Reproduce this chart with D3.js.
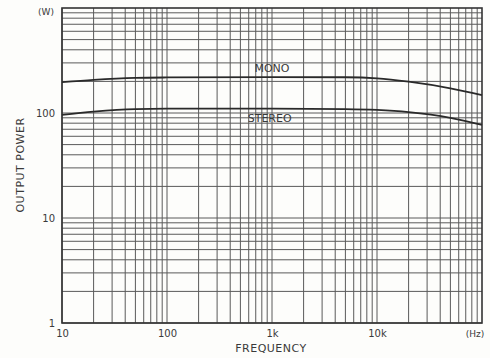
<!DOCTYPE html>
<html>
<head>
<meta charset="utf-8">
<script src="https://cdn.jsdelivr.net/npm/d3@7"></script>
<style>
  body { margin: 0; background: #fdfdfb; }
  svg { display: block; }
  text { font-family: "DejaVu Sans", sans-serif; fill: #3a3a3a; }
</style>
</head>
<body>
<svg id="chart" width="490" height="358"></svg>
<script>
// frequency (Hz) and output power (W)
var freqs = [10, 20, 50, 100, 1000, 5000, 10000, 20000, 50000, 100000];
var mono = [197, 207, 216, 218, 220, 219, 214, 199, 172, 148];
var stereo = [96, 103, 109, 110, 110, 109, 107, 102, 90, 77];
var xTicks = [10, 100, 1000, 10000];
var xTickLabels = ["10", "100", "1k", "10k"];
var yTicks = [1, 10, 100];
var yTickLabels = ["1", "10", "100"];

var svg = d3.select("#chart"),
    plot = { left: 62, right: 482, top: 8, bottom: 323 };

var x = d3.scaleLog().domain([10, 100000]).range([plot.left, plot.right]);
var y = d3.scaleLog().domain([1, 1000]).range([plot.bottom, plot.top]);

var grid = svg.append("g").attr("class", "grid");

// log grid: every 1..9 within each decade
var xGrid = [], yGrid = [];
for (var d = 10; d < 100000; d *= 10)
    for (var k = 1; k < 10; k++) xGrid.push(d * k);
for (var d = 1; d < 1000; d *= 10)
    for (var k = 1; k < 10; k++) yGrid.push(d * k);

grid.selectAll("line.v")
    .data(xGrid)
    .enter().append("line")
    .attr("class", "v")
    .attr("x1", function (d) { return x(d); })
    .attr("x2", function (d) { return x(d); })
    .attr("y1", plot.top).attr("y2", plot.bottom)
    .attr("stroke", "#5a5a5a")
    .attr("stroke-width", 1);

grid.selectAll("line.h")
    .data(yGrid)
    .enter().append("line")
    .attr("class", "h")
    .attr("y1", function (d) { return y(d); })
    .attr("y2", function (d) { return y(d); })
    .attr("x1", plot.left).attr("x2", plot.right)
    .attr("stroke", "#5a5a5a")
    .attr("stroke-width", 1);

// frame
svg.append("rect")
    .attr("x", plot.left).attr("y", plot.top)
    .attr("width", plot.right - plot.left).attr("height", plot.bottom - plot.top)
    .attr("fill", "none")
    .attr("stroke", "#333")
    .attr("stroke-width", 1.6);

// axes (labels only)
var axisX = svg.append("g")
    .attr("transform", "translate(0," + plot.bottom + ")")
    .call(d3.axisBottom(x).tickValues(xTicks).tickSize(0).tickPadding(7)
        .tickFormat(function (d, i) { return xTickLabels[i]; }));
axisX.select(".domain").remove();
axisX.selectAll("text").attr("font-size", 10).attr("fill", "#3a3a3a")
    .attr("font-family", "DejaVu Sans");

var axisY = svg.append("g")
    .attr("transform", "translate(" + plot.left + ",0)")
    .call(d3.axisLeft(y).tickValues(yTicks).tickSize(0).tickPadding(7)
        .tickFormat(function (d, i) { return yTickLabels[i]; }));
axisY.select(".domain").remove();
axisY.selectAll("text").attr("font-size", 10).attr("fill", "#3a3a3a")
    .attr("font-family", "DejaVu Sans");

svg.append("text").attr("x", 475).attr("y", 337)
    .attr("text-anchor", "middle").attr("font-size", 9).text("(Hz)");
svg.append("text").attr("x", 46).attr("y", 15)
    .attr("text-anchor", "middle").attr("font-size", 9).text("(W)");

// axis titles
svg.append("text").attr("x", 271).attr("y", 352)
    .attr("text-anchor", "middle").attr("font-size", 11)
    .attr("letter-spacing", 0.5).text("FREQUENCY");
svg.append("text")
    .attr("transform", "translate(24,165) rotate(-90)")
    .attr("text-anchor", "middle").attr("font-size", 11)
    .attr("letter-spacing", 0.5).text("OUTPUT POWER");

// curves
var line = d3.line()
    .x(function (d) { return x(d[0]); })
    .y(function (d) { return y(d[1]); })
    .curve(d3.curveMonotoneX);

[mono, stereo].forEach(function (s) {
    svg.append("path")
        .datum(freqs.map(function (f, i) { return [f, s[i]]; }))
        .attr("fill", "none")
        .attr("stroke", "#2a2a2a")
        .attr("stroke-width", 1.8)
        .attr("d", line);
});

// series labels
svg.append("text").attr("x", x(1000)).attr("y", y(245))
    .attr("text-anchor", "middle").attr("font-size", 11).text("MONO");
svg.append("text").attr("x", x(950)).attr("y", y(82))
    .attr("text-anchor", "middle").attr("font-size", 11).text("STEREO");
</script>
</body>
</html>
